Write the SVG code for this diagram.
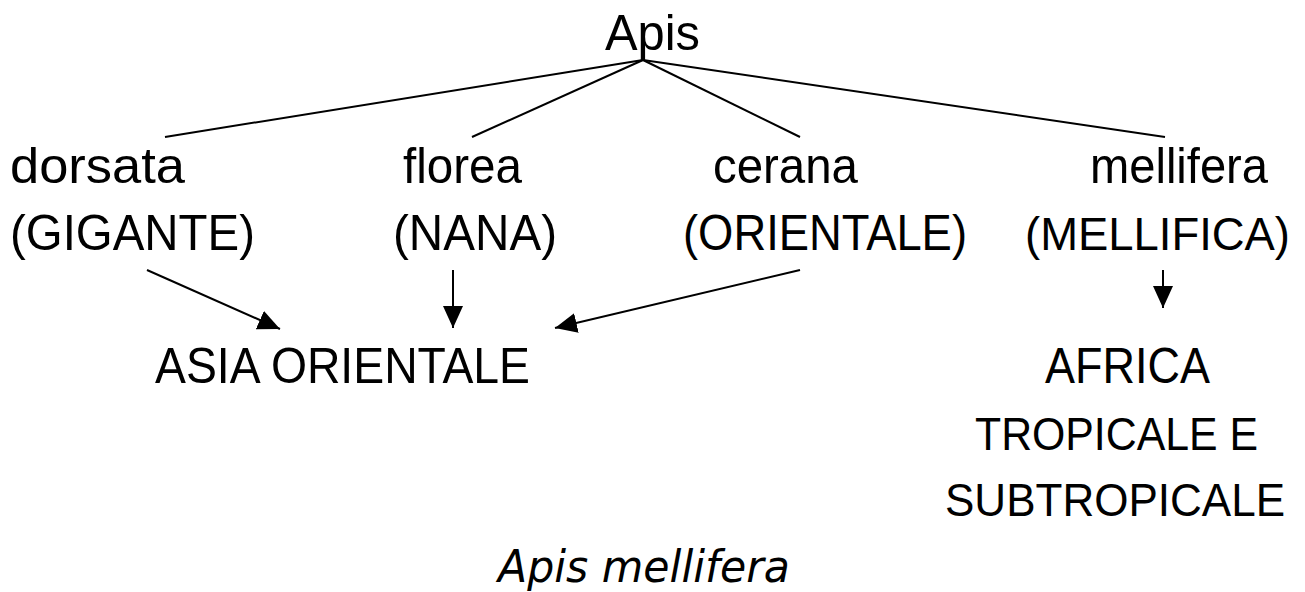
<svg xmlns="http://www.w3.org/2000/svg" width="1305" height="592" viewBox="0 0 1305 592">
<defs>
<style>
.t{font-family:"Liberation Sans",Arial,sans-serif;font-size:50px;fill:#000}
.s{font-size:46px}
.i{font-family:"DejaVu Sans",Verdana,sans-serif;font-style:italic;font-size:44px;fill:#000}
.c{stroke:#000;stroke-width:2;fill:none}
</style>
<marker id="ah" markerWidth="22" markerHeight="20" refX="22" refY="10" orient="auto" markerUnits="userSpaceOnUse">
<path d="M0,0 L22,10 L0,20 Z" fill="#000"/>
</marker>
</defs>
<rect width="1305" height="592" fill="#fff"/>
<g id="connectors">
<line class="c" x1="643" y1="60" x2="165" y2="137"/>
<line class="c" x1="643" y1="60" x2="472" y2="137"/>
<line class="c" x1="643" y1="60" x2="800" y2="137"/>
<line class="c" x1="643" y1="60" x2="1165" y2="137"/>
<line class="c" x1="147" y1="270" x2="280" y2="329" marker-end="url(#ah)"/>
<line class="c" x1="453" y1="270" x2="453" y2="328" marker-end="url(#ah)"/>
<line class="c" x1="800" y1="270" x2="555" y2="328" marker-end="url(#ah)"/>
<line class="c" x1="1163" y1="270" x2="1163" y2="308" marker-end="url(#ah)"/>
</g>
<g id="apis"><text class="t" x="605" y="50" textLength="95" lengthAdjust="spacingAndGlyphs">Apis</text></g>
<g id="dorsata">
<text class="t" x="10" y="183" textLength="175" lengthAdjust="spacingAndGlyphs">dorsata</text>
<text class="t" x="10" y="250" textLength="245" lengthAdjust="spacingAndGlyphs">(GIGANTE)</text>
</g>
<g id="florea">
<text class="t" x="403" y="183" textLength="119" lengthAdjust="spacingAndGlyphs">florea</text>
<text class="t" x="393" y="250" textLength="164" lengthAdjust="spacingAndGlyphs">(NANA)</text>
</g>
<g id="cerana">
<text class="t" x="713" y="183" textLength="145" lengthAdjust="spacingAndGlyphs">cerana</text>
<text class="t" x="683" y="250" textLength="284" lengthAdjust="spacingAndGlyphs">(ORIENTALE)</text>
</g>
<g id="mellifera">
<text class="t" x="1090" y="183" textLength="178" lengthAdjust="spacingAndGlyphs">mellifera</text>
<text class="t s" x="1025" y="250" textLength="265" lengthAdjust="spacingAndGlyphs">(MELLIFICA)</text>
</g>
<g id="asia"><text class="t" x="155" y="383" textLength="375" lengthAdjust="spacingAndGlyphs">ASIA ORIENTALE</text></g>
<g id="africa">
<text class="t" x="1045" y="383" textLength="165" lengthAdjust="spacingAndGlyphs">AFRICA</text>
<text class="t s" x="975" y="450" textLength="283" lengthAdjust="spacingAndGlyphs">TROPICALE E</text>
<text class="t s" x="945" y="516" textLength="340" lengthAdjust="spacingAndGlyphs">SUBTROPICALE</text>
</g>
<g id="caption"><text class="i" x="498" y="582" textLength="292" lengthAdjust="spacingAndGlyphs">Apis mellifera</text></g>
</svg>
